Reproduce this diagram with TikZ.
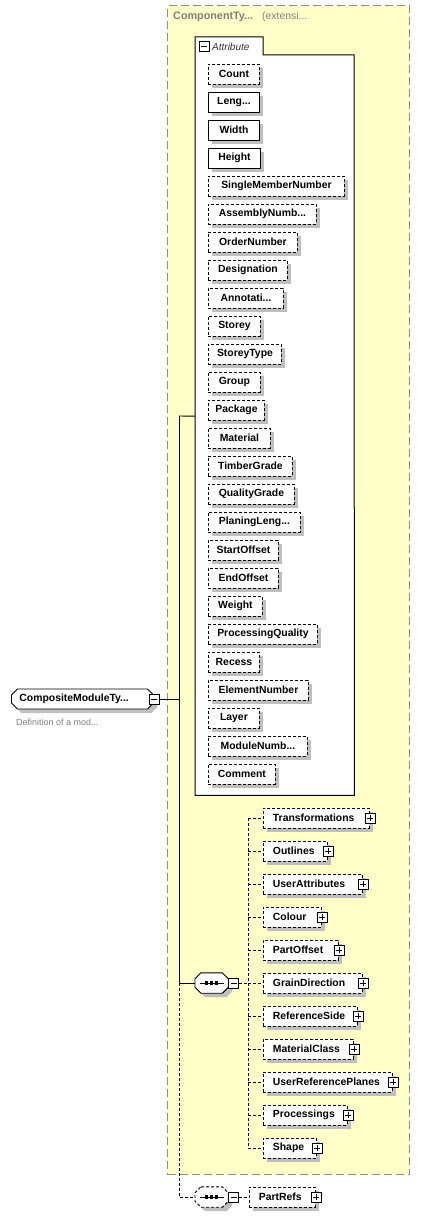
\documentclass[tikz,border=0pt]{standalone}
\usepackage{fontspec}
\setmainfont{Liberation Sans}
\usetikzlibrary{shapes.misc,shadows}
\definecolor{ylw}{HTML}{FFFFC8}
\definecolor{shdc}{HTML}{BFBFBF}
\definecolor{frm}{HTML}{8E8E8E}
\definecolor{txtgray}{HTML}{7F7F7F}
\tikzset{
  shd/.style={drop shadow={shadow xshift=4pt,shadow yshift=-4pt,fill=shdc,opacity=1}},
  box/.style={draw=black, fill=white, line width=0.9pt, minimum height=20pt, inner ysep=0pt, inner xsep=0pt, anchor=west, font=\fontsize{10.4}{12}\selectfont\bfseries, shd},
  opt/.style={dash pattern=on 3pt off 2pt},
  req/.style={solid},
  pm/.style={draw=black, fill=white, line width=0.8pt, minimum size=10pt, inner sep=0pt},
  minus/.style={pm, path picture={\draw[line width=0.8pt] ([xshift=2pt]path picture bounding box.west) -- ([xshift=-2pt]path picture bounding box.east);}},
  plus/.style={pm, path picture={\draw[line width=0.8pt] ([xshift=2pt]path picture bounding box.west) -- ([xshift=-2pt]path picture bounding box.east) ([yshift=-2pt]path picture bounding box.north) -- ([yshift=2pt]path picture bounding box.south);}},
  conn/.style={draw=black, line width=0.9pt},
  dconn/.style={conn, dash pattern=on 3pt off 2pt},
  seqnode/.style={rectangle, minimum width=33pt, minimum height=20pt, inner sep=0pt, anchor=west},
  octo/.style={draw=black, fill=white, line width=0.9pt, shd},
}
\newcommand\attrnode[5]{\node[box,#4,minimum width=#3pt] (#1) at (208,#5) {#2};}
\newcommand\elemnode[5]{\node[box,opt,text width=#3pt-19pt,inner xsep=9.5pt,align=left] (#1) at (#4,#5) {#2};
  \node[plus] (#1p) at (#1.east) {};}
\newcommand\octopath[1]{([xshift=6pt]#1.north west) -- ([xshift=-6pt]#1.north east) -- ([yshift=-6pt]#1.north east) -- ([yshift=6pt]#1.south east) -- ([xshift=-6pt]#1.south east) -- ([xshift=6pt]#1.south west) -- ([yshift=6pt]#1.south west) -- ([yshift=-6pt]#1.north west) -- cycle}
\newcommand\seqdots[1]{\draw[line width=0.9pt] ([xshift=-12pt]#1.center) -- ([xshift=12pt]#1.center);
  \foreach \dx in {-5,0,5} \fill ([xshift=\dx pt]#1.center) +(-1.6pt,-1.6pt) rectangle +(1.6pt,1.6pt);}
\begin{document}
\begin{tikzpicture}[x=1pt,y=-1pt]
\useasboundingbox (0,0) rectangle (420,1217);
% group box
\node[draw=frm, fill=ylw, line width=1.2pt, dash pattern=on 8pt off 4pt, minimum width=242pt, minimum height=1169pt, inner sep=0pt, anchor=north west] (grp) at (167,5) {};
\node[anchor=west, inner sep=0pt, text=txtgray, font=\fontsize{10.8}{12}\selectfont\bfseries] (gtitle) at (173,17) {ComponentTy...};
\node[anchor=west, inner sep=0pt, text=txtgray, font=\fontsize{10.4}{12}\selectfont] (gext) at (262,17) {(extensi...};
% attribute container
\node[minimum width=159pt, minimum height=758pt, inner sep=0pt, anchor=north west] (attrbox) at (195,37) {};
\draw[fill=white, line width=1pt] (attrbox.south west) -- (attrbox.north west) -- (263,37) -- (263,55) -- (354,55) -- (attrbox.south east) -- cycle;
\node[minus] (attrm) at (204,46.5) {};
\node[anchor=west, inner sep=0pt, font=\fontsize{10}{12}\selectfont\itshape, text=black!80] (attrlbl) at (212,46.5) {Attribute};
% attributes
\attrnode{a1}{Count}{51}{opt}{74}
\attrnode{a2}{Leng...}{51}{req}{102}
\attrnode{a3}{Width}{51}{req}{130}
\attrnode{a4}{Height}{52}{req}{158}
\attrnode{a5}{SingleMemberNumber}{136}{opt}{186}
\attrnode{a6}{AssemblyNumb...}{108}{opt}{214}
\attrnode{a7}{OrderNumber}{89}{opt}{242}
\attrnode{a8}{Designation}{79}{opt}{270}
\attrnode{a9}{Annotati...}{75}{opt}{298}
\attrnode{a10}{Storey}{52}{opt}{326}
\attrnode{a11}{StoreyType}{73}{opt}{354}
\attrnode{a12}{Group}{52}{opt}{382}
\attrnode{a13}{Package}{56}{opt}{410}
\attrnode{a14}{Material}{62}{opt}{438}
\attrnode{a15}{TimberGrade}{84}{opt}{466}
\attrnode{a16}{QualityGrade}{86}{opt}{494}
\attrnode{a17}{PlaningLeng...}{92}{opt}{522}
\attrnode{a18}{StartOffset}{70}{opt}{550}
\attrnode{a19}{EndOffset}{70}{opt}{578}
\attrnode{a20}{Weight}{54}{opt}{606}
\attrnode{a21}{ProcessingQuality}{109}{opt}{634}
\attrnode{a22}{Recess}{51}{opt}{662}
\attrnode{a23}{ElementNumber}{100}{opt}{690}
\attrnode{a24}{Layer}{51}{opt}{718}
\attrnode{a25}{ModuleNumb...}{99}{opt}{746}
\attrnode{a26}{Comment}{67}{opt}{774}
% root element
\node[box, chamfered rectangle, chamfered rectangle xsep=3pt, chamfered rectangle ysep=3pt, text width=126pt, inner xsep=5pt, align=left] (root) at (11,699) {CompositeModuleTy...};
\node[minus] (rootm) at (root.east) {};
\node[anchor=west, inner sep=0pt, text=txtgray, font=\fontsize{9}{11}\selectfont] (desc) at (16,722) {Definition of a mod...};
% sequence
\node[seqnode] (seq) at (195,983) {};
\path[octo] \octopath{seq};
\seqdots{seq}
\node[minus, anchor=west] (seqm) at (seq.east) {};
% children
\elemnode{e1}{Transformations}{106}{263}{818}
\elemnode{e2}{Outlines}{64}{263}{851}
\elemnode{e3}{UserAttributes}{99}{263}{884}
\elemnode{e4}{Colour}{58}{263}{917}
\elemnode{e5}{PartOffset}{75}{263}{950}
\elemnode{e6}{GrainDirection}{99}{263}{983}
\elemnode{e7}{ReferenceSide}{94}{263}{1016}
\elemnode{e8}{MaterialClass}{90}{263}{1049}
\elemnode{e9}{UserReferencePlanes}{129}{263}{1082}
\elemnode{e10}{Processings}{84}{263}{1115}
\elemnode{e11}{Shape}{53}{263}{1148}
% PartRefs sequence
\node[seqnode] (pseq) at (195,1197) {};
\path[octo, opt] \octopath{pseq};
\seqdots{pseq}
\node[minus, anchor=west] (pseqm) at (pseq.east) {};
\elemnode{pr}{PartRefs}{66}{249}{1197}
% connectors
\coordinate (j) at (179,699);
\coordinate (jt) at (179,416);
\coordinate (jb) at (179,983);
\coordinate (jp) at (179,1197);
\coordinate (vtop) at (248,818);
\coordinate (vbot) at (248,1148);
\draw[conn] (rootm.east) -- (j);
\draw[conn] (jt) -- (jb);
\draw[conn] (jt) -- (attrbox.west);
\draw[conn] (jb) -- (seq.west);
\draw[dconn] (jb) -- (jp) -- (pseq.west);
\draw[dconn] (seqm.east) -- (seqm.east -| vtop);
\draw[dconn] (vtop) -- (vbot);
\foreach \k in {1,...,11} \draw[dconn] (e\k.west -| vtop) -- (e\k.west);
\draw[dconn] (pseqm.east) -- (pr.west);
\end{tikzpicture}
\end{document}
